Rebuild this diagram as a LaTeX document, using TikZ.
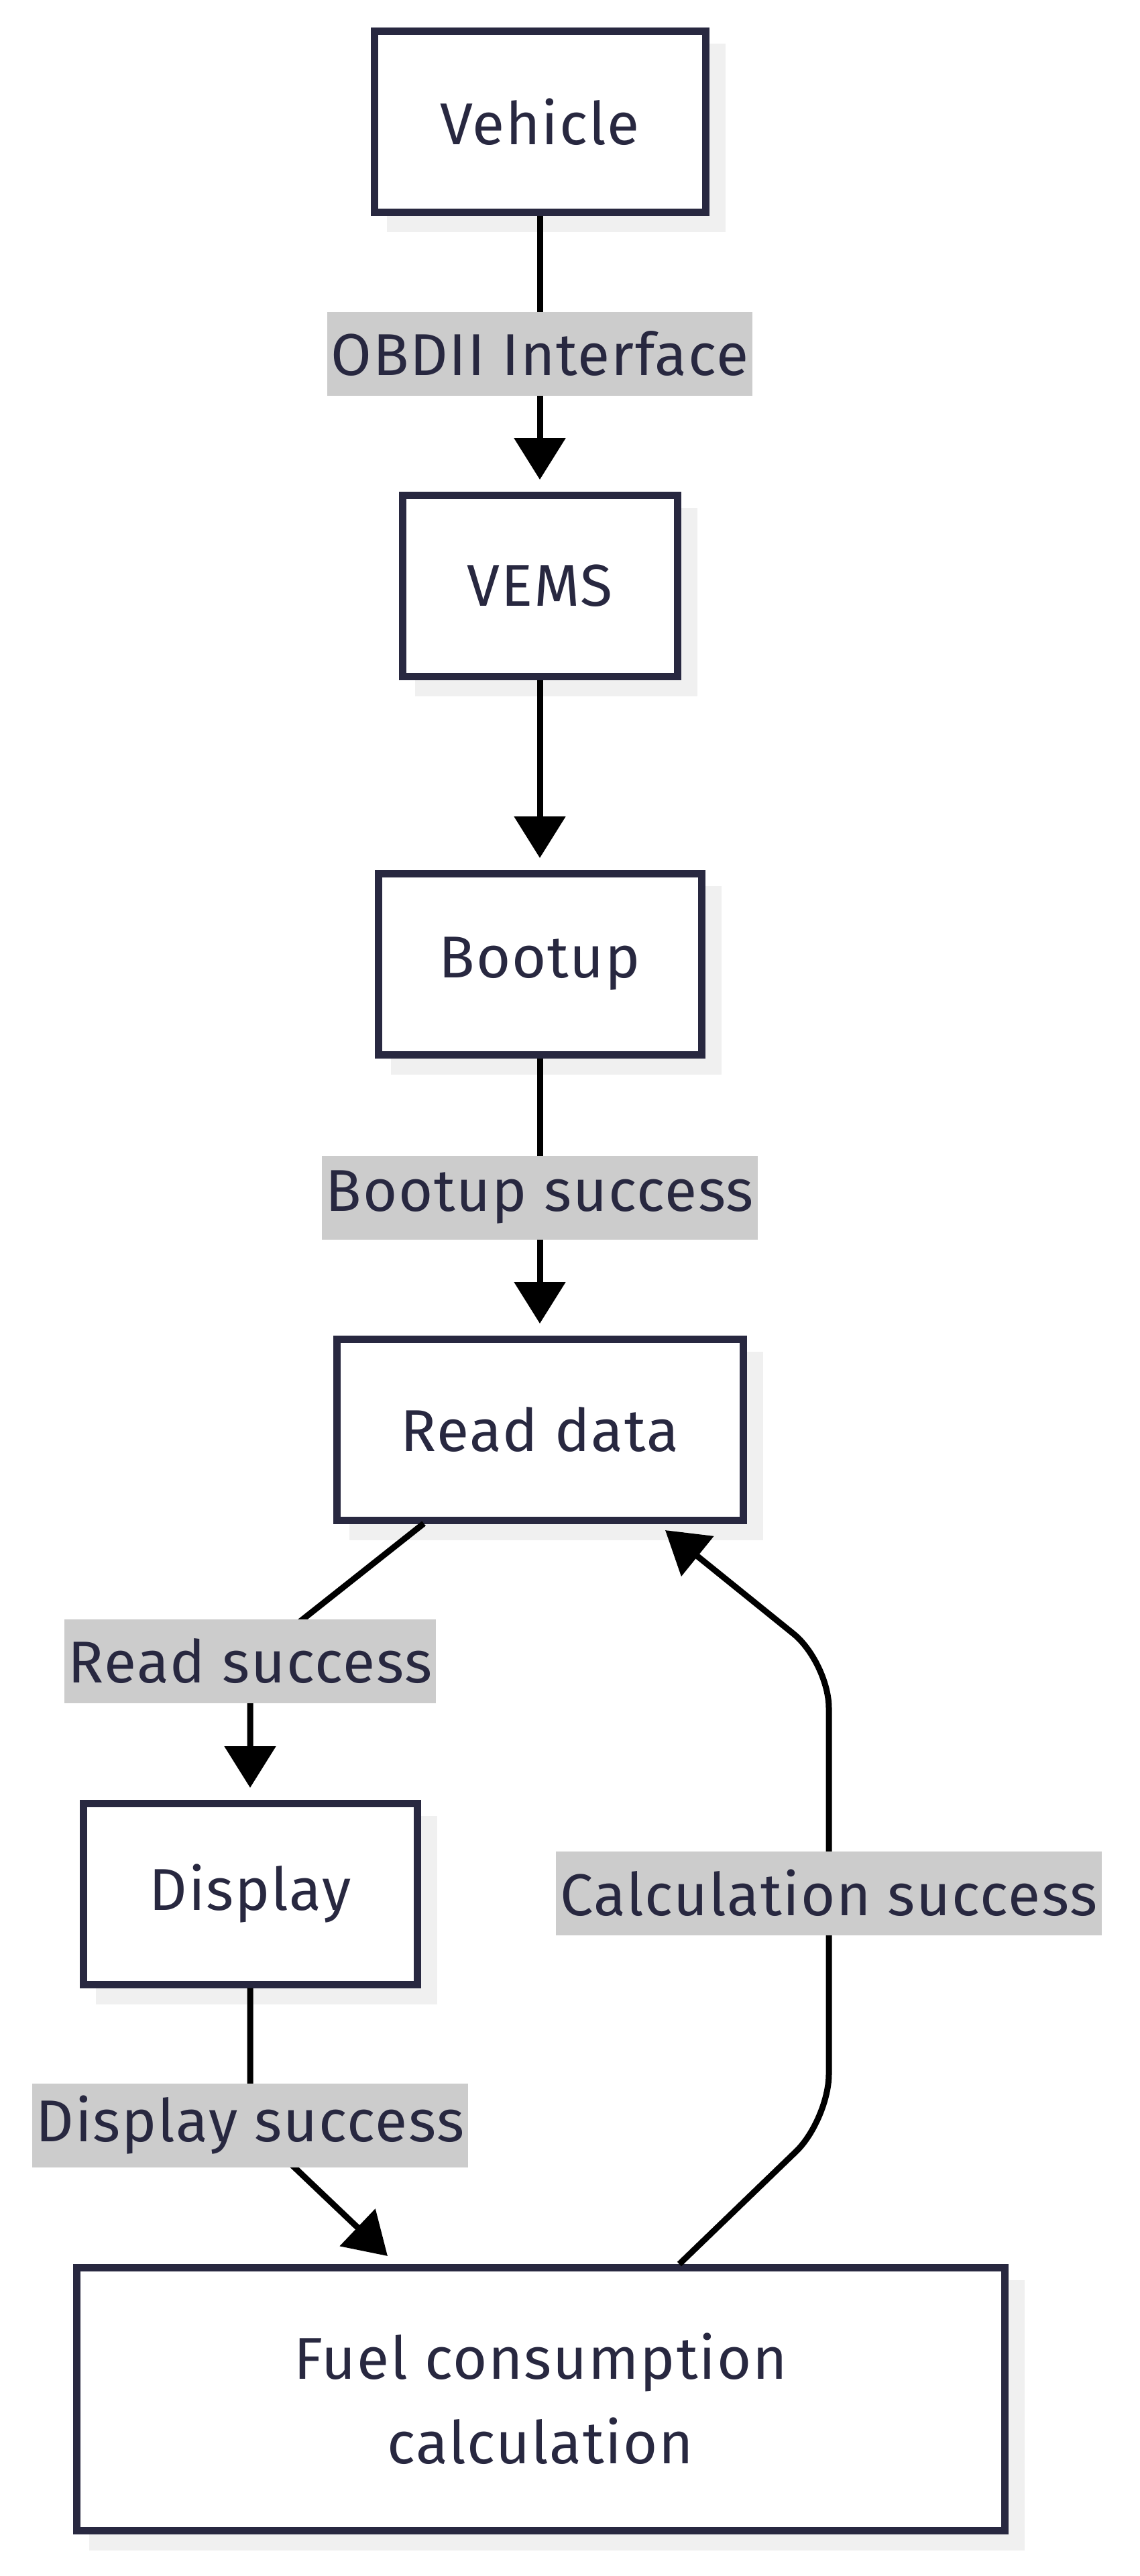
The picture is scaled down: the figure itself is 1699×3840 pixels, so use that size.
\documentclass[tikz,border=0pt]{standalone}
\usepackage{fontspec}
\setmainfont[LetterSpace=2]{Fira Sans}
\usetikzlibrary{arrows.meta,calc}
\definecolor{boxc}{RGB}{40,40,64}
\definecolor{textc}{RGB}{40,40,64}
\definecolor{labelc}{RGB}{204,204,204}
\definecolor{shadowc}{RGB}{240,240,240}
\pgfdeclarelayer{bg}
\pgfsetlayers{bg,main}
\tikzset{
  box/.style={draw=boxc, line width=5.5pt, fill=white, inner sep=0pt, outer sep=0pt,
    minimum height=135pt, text=textc, font=\fontsize{44}{63}\selectfont, align=center},
  elabel/.style={fill=labelc, inner xsep=3pt, inner ysep=0pt, minimum height=62.5pt,
    text=textc, font=\fontsize{44}{52}\selectfont},
  edge/.style={draw=black, line width=4.5pt, -{Triangle[length=31pt,width=37.5pt]}},
}
\newcommand{\boxshadow}[1]{%
  \fill[shadowc] ($(#1.north west)+(18.5,18.5)$) rectangle ($(#1.south east)+(29.5,29.5)$);}
\begin{document}
\begin{tikzpicture}[x=0.5pt,y=-0.5pt]
\useasboundingbox (0,0) rectangle (1699,3840);
% boxes
\node[box, minimum width=247pt] (veh) at (805,181.5) {Vehicle};
\node[box, minimum width=205pt] (vems) at (805,873) {VEMS};
\node[box, minimum width=241pt] (boot) at (805,1437) {Bootup};
\node[box, minimum width=303pt] (read) at (805,2131) {Read data};
\node[box, minimum width=249pt] (disp) at (373,2823) {Display};
\node[box, minimum width=692pt, minimum height=196pt] (fuel) at (806,3576) {Fuel consumption\\calculation};
\begin{pgfonlayer}{bg}
\fill[white] (0,0) rectangle (1699,3840);
\boxshadow{veh}\boxshadow{vems}\boxshadow{boot}\boxshadow{read}\boxshadow{disp}\boxshadow{fuel}
\end{pgfonlayer}
% corner coordinates
\coordinate (c1) at (1236,3160);
\coordinate (c2) at (1236,2478);
\coordinate (lr) at (373,2476);
\coordinate (ld) at (373,3168);
% edges
\draw[edge] ($(veh.south)+(0,5.5)$) -- ($(vems.north)+(0,-23)$);
\draw[edge] ($(vems.south)+(0,5.5)$) -- ($(boot.north)+(0,-23)$);
\draw[edge] ($(boot.south)+(0,5.5)$) -- ($(read.north)+(0,-23)$);
\draw[edge, rounded corners=30pt] ($(read.south)+(-173,5)$) -- (lr) -- ($(disp.north)+(0,-23)$);
\draw[edge, rounded corners=30pt] ($(disp.south)+(0,5.5)$) -- (ld) -- ($(fuel.north)+(-228,-17)$);
\draw[edge, rounded corners=34pt] ($(fuel.north)+(207,-5)$) -- (c1) -- (c2) -- ($(read.south)+(187,15)$);
% labels
\node[elabel] (l1) at (805,527) {OBDII Interface};
\node[elabel] (l2) at (805,1785) {Bootup success};
\node[elabel] (l3) at (lr) {Read success};
\node[elabel] (l4) at (ld) {Display success};
\node[elabel] (l5) at (1236,2822) {Calculation success};
\end{tikzpicture}
\end{document}
